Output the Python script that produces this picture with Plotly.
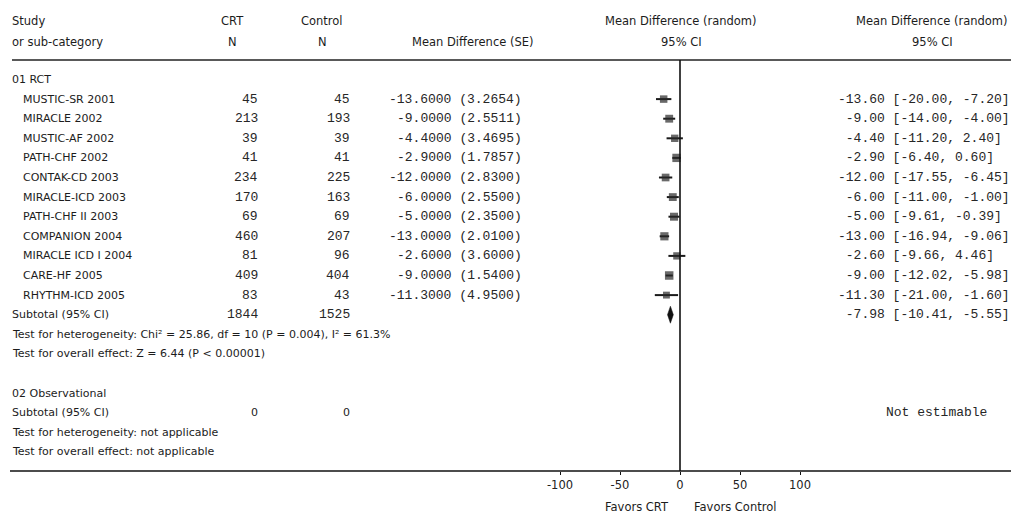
import plotly.graph_objects as go

W, H = 1011, 515

# ---------------- data ----------------
studies = ["MUSTIC-SR 2001", "MIRACLE 2002", "MUSTIC-AF 2002", "PATH-CHF 2002",
           "CONTAK-CD 2003", "MIRACLE-ICD 2003", "PATH-CHF II 2003", "COMPANION 2004",
           "MIRACLE ICD I 2004", "CARE-HF 2005", "RHYTHM-ICD 2005"]
crt_n = [45, 213, 39, 41, 234, 170, 69, 460, 81, 409, 83]
ctrl_n = [45, 193, 39, 41, 225, 163, 69, 207, 96, 404, 43]
md = [-13.6, -9.0, -4.4, -2.9, -12.0, -6.0, -5.0, -13.0, -2.6, -9.0, -11.3]
se = [3.2654, 2.5511, 3.4695, 1.7857, 2.83, 2.55, 2.35, 2.01, 3.6, 1.54, 4.95]
ci_lo = [-20.00, -14.00, -11.20, -6.40, -17.55, -11.00, -9.61, -16.94, -9.66, -12.02, -21.00]
ci_hi = [-7.20, -4.00, 2.40, 0.60, -6.45, -1.00, -0.39, -9.06, 4.46, -5.98, -1.60]

sub_crt, sub_ctrl = 1844, 1525
sub_md, sub_lo, sub_hi = -7.98, -10.41, -5.55
het_text = "Test for heterogeneity: Chi² = 25.86, df = 10 (P = 0.004), I² = 61.3%"
overall_text = "Test for overall effect: Z = 6.44 (P < 0.00001)"

obs_crt, obs_ctrl = 0, 0

tick_vals = [-100, -50, 0, 50, 100]
tick_text = ["-100", "-50", "0", "50", "100"]

# ---------------- layout helpers ----------------
ROW0, STEP = 79.5, 19.6
LINE_Y, AXIS_Y = 60, 471


def row_y(i):
    return ROW0 + i * STEP


def px(x):
    return x / W


def py(y):
    return 1 - y / H


SANS = "DejaVu Sans, Verdana, sans-serif"
MONO = "Courier New, Nimbus Mono PS, FreeMono, Liberation Mono, monospace"
TXT = "#1c1c1c"
MTXT = "#262626"
MS = 13.0  # mono size
SS = 11.0  # sans size

annotations = []


def txt(x, y, s, anchor="left", font=SANS, size=SS, color=TXT):
    annotations.append(dict(x=px(x), y=py(y), xref="paper", yref="paper", text=s,
                            showarrow=False, xanchor=anchor, yanchor="middle",
                            font=dict(family=font, size=size, color=color)))


# headers
HY1, HY2 = 21, 42
HS = 11.5
txt(10, HY1, "Study", size=HS)
txt(10, HY2, "or sub-category", size=HS)
txt(232, HY1, "CRT", "center", size=HS)
txt(232, HY2, "N", "center", size=HS)
txt(322, HY1, "Control", "center", size=HS)
txt(322, HY2, "N", "center", size=HS)
txt(472, HY2, "Mean Difference (SE)", "center", size=HS)
txt(681, HY1, "Mean Difference (random)", "center", size=HS)
txt(681, HY2, "95% CI", "center", size=HS)
txt(932, HY1, "Mean Difference (random)", "center", size=HS)
txt(932, HY2, "95% CI", "center", size=HS)

# group 1
txt(10, row_y(0), "01 RCT")
for i, name in enumerate(studies):
    y = row_y(i + 1)
    txt(21, y, name)
    txt(260, y, str(crt_n[i]), "right", MONO, MS, MTXT)
    txt(352, y, str(ctrl_n[i]), "right", MONO, MS, MTXT)
    txt(524, y, f"{md[i]:.4f} ({se[i]:.4f})", "right", MONO, MS, MTXT)
    ci_s = f"{md[i]:.2f}".rjust(6) + f" [{ci_lo[i]:.2f}, {ci_hi[i]:.2f}]"
    txt(836, y, ci_s.replace(" ", "&nbsp;"), "left", MONO, MS, MTXT)

ys = row_y(12)
txt(10, ys, "Subtotal (95% CI)")
txt(260, ys, str(sub_crt), "right", MONO, MS, MTXT)
txt(352, ys, str(sub_ctrl), "right", MONO, MS, MTXT)
sub_s = f"{sub_md:.2f}".rjust(6) + f" [{sub_lo:.2f}, {sub_hi:.2f}]"
txt(836, ys, sub_s.replace(" ", "&nbsp;"), "left", MONO, MS, MTXT)
txt(10, row_y(13), het_text)
txt(10, row_y(14), overall_text)

# group 2
txt(10, row_y(16), "02 Observational")
txt(10, row_y(17), "Subtotal (95% CI)")
txt(260, row_y(17), str(obs_crt), "right")
txt(352, row_y(17), str(obs_ctrl), "right")
txt(884, row_y(17), "Not estimable", "left", MONO, MS, MTXT)
txt(10, row_y(18), "Test for heterogeneity: not applicable")
txt(10, row_y(19), "Test for overall effect: not applicable")

# favors labels
txt(671, 507, "Favors CRT", "right", SANS, 11.5)
txt(692, 507, "Favors Control", "left", SANS, 11.5)

# ---------------- marks ----------------
inv_var = [1 / (s * s) for s in se]
sw = sum(inv_var)
fixed = sum(a * b for a, b in zip(inv_var, md)) / sw
q = sum(w * (m - fixed) ** 2 for w, m in zip(inv_var, md))
c = sw - sum(w * w for w in inv_var) / sw
tau2 = max(0.0, (q - (len(md) - 1)) / c)
rw = [1 / (s * s + tau2) for s in se]
rmax = max(rw)
sizes = [6 + 2.5 * w / rmax for w in rw]

row_ys = [row_y(i + 1) for i in range(len(studies))]

fig = go.Figure()
fig.add_trace(go.Scatter(
    x=md, y=row_ys, mode="markers",
    marker=dict(symbol="square", size=sizes, color="#2a2a2a", line=dict(width=0)),
    error_x=dict(type="data", symmetric=False,
                 array=[h - m for h, m in zip(ci_hi, md)],
                 arrayminus=[m - l for m, l in zip(md, ci_lo)],
                 thickness=2, width=0, color="#1a1a1a"),
    hoverinfo="skip", showlegend=False))

DH = 8.5
fig.add_trace(go.Scatter(
    x=[sub_lo, sub_md, sub_hi, sub_md, sub_lo],
    y=[ys, ys - DH, ys, ys + DH, ys],
    mode="lines", fill="toself", fillcolor="#111111",
    line=dict(width=0.5, color="#111111"), hoverinfo="skip", showlegend=False))

shapes = [
    dict(type="line", xref="paper", yref="paper", x0=px(12), x1=1, y0=py(LINE_Y), y1=py(LINE_Y),
         line=dict(color="#222222", width=1.6)),
    dict(type="line", xref="x", yref="y", x0=0, x1=0, y0=LINE_Y, y1=AXIS_Y,
         line=dict(color="#111111", width=1.6)),
    dict(type="line", xref="paper", yref="paper", x0=px(10), x1=1, y0=py(AXIS_Y), y1=py(AXIS_Y),
         line=dict(color="#111111", width=1.4)),
]

fig.update_layout(
    width=W, height=H, margin=dict(l=0, r=0, t=0, b=0),
    paper_bgcolor="white", plot_bgcolor="rgba(0,0,0,0)",
    annotations=annotations, shapes=shapes,
    xaxis=dict(domain=[px(530), px(830)], range=[-125, 125],
               tickvals=tick_vals, ticktext=tick_text,
               ticks="outside", ticklen=3, tickwidth=1.2, tickcolor="#111",
               showline=False, showgrid=False, zeroline=False,
               tickfont=dict(family=SANS, size=11.5, color="#222"), fixedrange=True),
    yaxis=dict(domain=[(H - AXIS_Y) / H, 1], range=[AXIS_Y, 0], visible=False,
               showgrid=False, zeroline=False, fixedrange=True),
)

fig.write_html("out.html")
